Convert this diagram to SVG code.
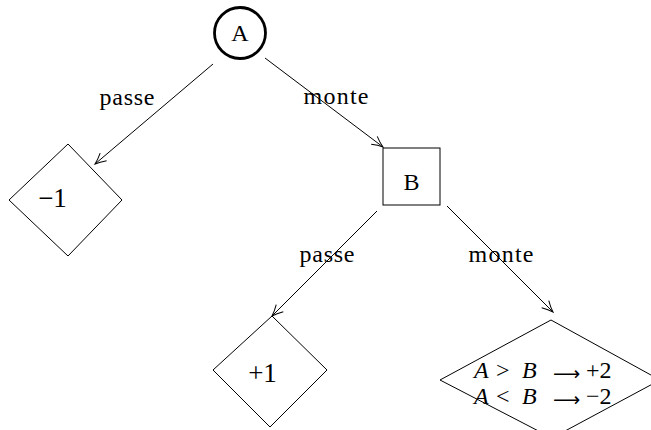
<svg xmlns="http://www.w3.org/2000/svg" width="651" height="430" viewBox="0 0 651 430">
<defs>
<marker id="arr" markerWidth="14" markerHeight="12" refX="12" refY="6" orient="auto" markerUnits="userSpaceOnUse">
<path d="M1,1 Q7,4.5 12,6 Q7,7.5 1,11" fill="none" stroke="#000" stroke-width="1"/>
</marker>
</defs>
<style>
text{font-family:"Liberation Serif","Times New Roman",serif;font-size:24px;fill:#000}
.it{font-style:italic}
.num{font-size:27px}
.ar{font-family:"DejaVu Sans",sans-serif;font-size:19px}
.shape{fill:#fff;stroke:#000;stroke-width:1}
.edge{stroke:#000;stroke-width:1;fill:none;marker-end:url(#arr)}
</style>
<rect width="651" height="430" fill="#fff"/>
<g id="connectors">
<line class="edge" x1="213" y1="64" x2="95" y2="164"/>
<line class="edge" x1="265" y1="58" x2="383" y2="147"/>
<line class="edge" x1="377" y1="211" x2="272" y2="316"/>
<line class="edge" x1="447" y1="206" x2="553" y2="312"/>
<text x="127" y="105" text-anchor="middle" textLength="55">passe</text>
<text x="336" y="104" text-anchor="middle" textLength="65">monte</text>
<text x="327" y="262" text-anchor="middle" textLength="55">passe</text>
<text x="501" y="262" text-anchor="middle" textLength="65">monte</text>
</g>
<g id="nodeA">
<circle cx="240" cy="33" r="25.5" fill="#fff" stroke="#000" stroke-width="2.8"/>
<text x="240" y="41" text-anchor="middle">A</text>
</g>
<g id="nodeB">
<rect class="shape" x="383" y="148" width="57" height="57"/>
<text x="411.5" y="190" text-anchor="middle">B</text>
</g>
<g id="leafM1">
<polygon class="shape" points="68,144 122,200 68,256 9,200"/>
<text class="num" x="52.5" y="207" text-anchor="middle">−1</text>
</g>
<g id="leafP1">
<polygon class="shape" points="272,316 327,370 270,427 213,370"/>
<text class="num" x="262.5" y="382" text-anchor="middle">+1</text>
</g>
<g id="leafC">
<polygon class="shape" points="551,320 660,380 552,438 440,380"/>
<text y="378"><tspan class="it" x="474">A</tspan><tspan x="496">&gt;</tspan><tspan class="it" x="522">B</tspan><tspan class="ar" x="553" y="380">⟶</tspan><tspan x="586" y="378">+2</tspan></text>
<text y="404"><tspan class="it" x="474">A</tspan><tspan x="496">&lt;</tspan><tspan class="it" x="522">B</tspan><tspan class="ar" x="553" y="406">⟶</tspan><tspan x="586" y="404">−2</tspan></text>
</g>
</svg>
